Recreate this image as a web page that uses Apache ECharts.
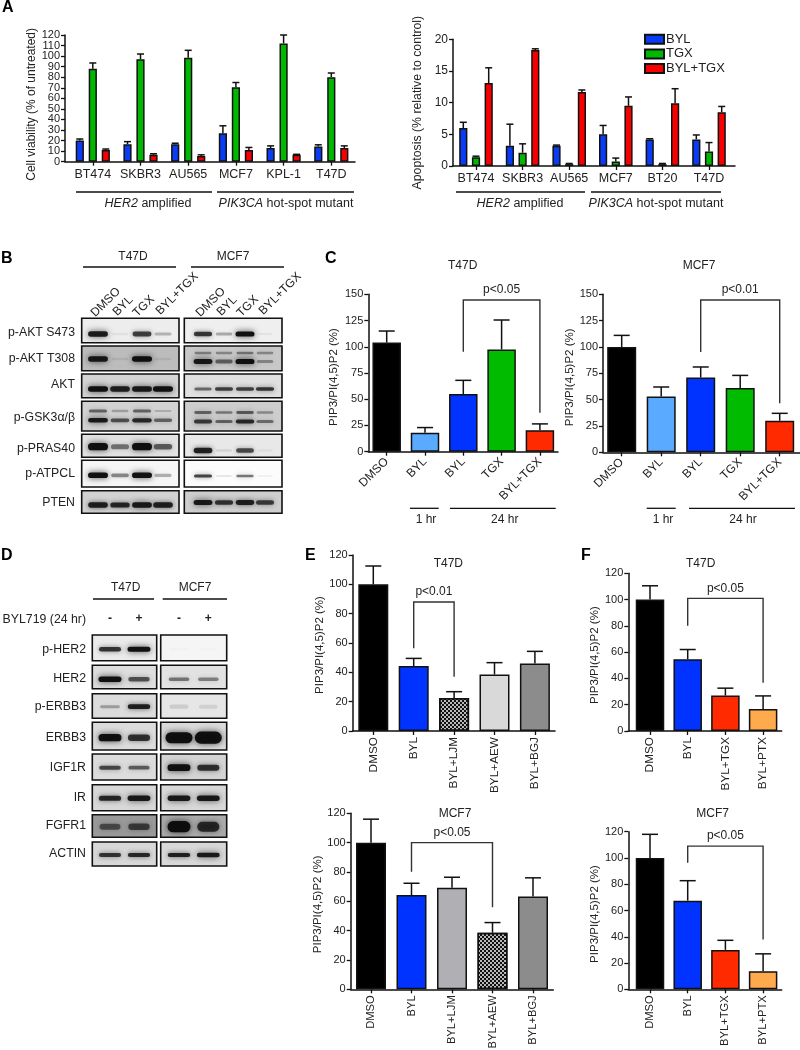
<!DOCTYPE html>
<html><head><meta charset="utf-8"><style>html,body{margin:0;padding:0;background:#fff}#c{width:800px;height:1050px}</style>
<script src="https://cdn.jsdelivr.net/npm/echarts@6/dist/echarts.min.js"></script></head>
<body><div id="c"></div><script>
// ---------- data ----------
const cellsA1=['BT474','SKBR3','AU565','MCF7','KPL-1','T47D'];
const viabBYL=[20,16.5,16.5,27,13,14.5], viabBYLTop=[21.5,19,17.5,34,15,16];
const viabTGX=[88,97,98.5,70.5,112,80], viabTGXTop=[93.5,102,105.5,75,120,84];
const viabBoth=[11,6.5,5.5,11,6.5,13], viabBothTop=[12,7.5,6.5,13.5,7,15];
const cellsA2=['BT474','SKBR3','AU565','MCF7','BT20','T47D'];
const apoBYL=[6,3.2,3.2,5,4.2,4.2], apoBYLTop=[6.9,6.6,3.3,6.4,4.3,4.9];
const apoTGX=[1.4,2.1,0.3,0.7,0.3,2.3], apoTGXTop=[1.55,3.5,0.4,1.25,0.4,3.7];
const apoBoth=[13.1,18.3,11.7,9.5,9.9,8.5], apoBothTop=[15.5,18.5,12,10.9,12.2,9.4];
const labelsC=['DMSO','BYL','BYL','TGX','BYL+TGX'];
const c1Val=[104,18,55,97.5,20.5], c1Top=[115,23,68,125.5,26.5];
const c2Val=[100,53,71,61,30], c2Top=[111,62,81,73,37];
const labelsE1=['DMSO','BYL','BYL+LJM','BYL+AEW','BYL+BGJ'];
const e1Val=[100,44.3,22.5,38.5,46], e1Top=[112.5,49.5,26.8,46.6,54.3];
const e2Val=[100,64.3,69.3,38.6,63.2], e2Top=[116,72.3,76.4,45.5,76];
const labelsF=['DMSO','BYL','BYL+TGX','BYL+PTX'];
const f1Val=[100,54.6,27,16.8], f1Top=[110.5,62,32.6,26.7];
const f2Val=[100,67.5,30,13.7], f2Top=[118,82.7,37.3,27];
// blots: lane intensities (0 = none, 1 = dark)
const targetsB=['p-AKT S473','p-AKT T308','AKT','p-GSK3α/β','p-PRAS40','p-ATPCL','PTEN'];
const lanesB=['DMSO','BYL','TGX','BYL+TGX'];
const blotBT47D=[[.95,.05,.75,.25],[.95,.08,1,.08],[1,.9,.95,1],[.95,.65,.85,.55],[1,.5,1,.6],[1,.45,1,.3],[.9,.85,.95,.9]];
const blotBT47DUpper=[null,null,null,[.55,.25,.55,.2],null,null,null];
const blotBMCF7=[[.8,.3,1,.05],[.95,.55,1,.35],[.55,.75,.75,.8],[.75,.55,.85,.5],[.9,.1,.7,.05],[.75,.12,.55,.07],[.95,.8,.9,.75]];
const blotBMCF7Upper=[null,[.4,.35,.45,.35],null,[.55,.45,.6,.35],null,null,null];
const targetsD=['p-HER2','HER2','p-ERBB3','ERBB3','IGF1R','IR','FGFR1','ACTIN'];
const blotDT47D=[[.8,1],[1,.65],[.3,.9],[1,.8],[.7,.6],[.85,.95],[.55,.65],[.8,.85]];
const blotDMCF7=[[.02,.02],[.5,.45],[.12,.1],[1.4,1.6],[1,.8],[.95,.95],[1,.8],[.9,.95]];

// ---------- styling / layout ----------
const FF='"Liberation Sans",Arial,sans-serif', INK='#222';
const BLUE='#0a3cf5',GREEN='#00b800',RED='#f80000',BLUE2='#0033ff',LIGHT='#5aaaff',GRN2='#00bb00',RED2='#ff2a00',ORG='#ffab4d';
const checker={symbol:'rect',symbolSize:1,color:'#111',dashArrayX:[[2,2],[0,2,2,0]],dashArrayY:[2,0],rotation:0};
const CHK={color:'#b8b8b8',decal:checker};
const option={animation:false,backgroundColor:'#fff',textStyle:{fontFamily:FF,color:INK},
 grid:[],xAxis:[],yAxis:[],series:[],graphic:{elements:[]},
 legend:{left:644,top:32,padding:0,orient:'vertical',icon:'rect',itemWidth:19,itemHeight:9,itemGap:0,data:['BYL','TGX','BYL+TGX'],
  textStyle:{fontFamily:FF,fontSize:13,color:INK,lineHeight:14.6,padding:[0,0,0,-3]}}};
const G=option.graphic.elements;
function text(t,x,y,o){G.push({type:'text',x,y,silent:true,rotation:(o&&o.rot)||0,style:Object.assign({text:t,fill:INK,font:'12px '+FF,align:'center',verticalAlign:'middle'},(o&&o.style)||{})});}
function hline(x1,x2,y,w){G.push({type:'line',silent:true,shape:{x1,y1:y,x2,y2:y},style:{stroke:'#111',lineWidth:w||1.3}});}
function errorSeries(gi,vals,tops,off,cap){return {type:'custom',xAxisIndex:gi,yAxisIndex:gi,clip:false,silent:true,z:1,encode:{x:0,y:[1,2]},
 data:vals.map((v,i)=>[i,v,tops[i]]),
 renderItem(p,api){const a=api.coord([api.value(0),api.value(1)]),b=api.coord([api.value(0),api.value(2)]),x=a[0]+off;
  const st={stroke:'#111',lineWidth:1.5};
  return {type:'group',children:[{type:'line',shape:{x1:x,y1:a[1],x2:x,y2:b[1]},style:st},{type:'line',shape:{x1:x-cap,y1:b[1],x2:x+cap,y2:b[1]},style:st}]};}};}
function bracketSeries(gi,b){return {type:'custom',xAxisIndex:gi,yAxisIndex:gi,clip:false,silent:true,z:3,encode:{x:[0,1],y:[2,3,4]},
 data:[[b.from,b.to,b.top,b.lb,b.rb]],
 renderItem(p,api){const L=api.coord([api.value(0),api.value(2)]),R=api.coord([api.value(1),api.value(2)]),lb=api.coord([api.value(0),api.value(3)]),rb=api.coord([api.value(1),api.value(4)]);
  return {type:'group',children:[{type:'polyline',shape:{points:[[L[0],lb[1]],[L[0],L[1]],[R[0],R[1]],[R[0],rb[1]]]},style:{stroke:'#333',lineWidth:1.4,fill:'none'}},
   {type:'text',x:(L[0]+R[0])/2+(b.dx||0),y:L[1]-10,style:{text:b.text,font:'12px '+FF,fill:INK,align:'center',verticalAlign:'middle'}}]};}};}
function addAxes(c){const gi=option.grid.length;
 option.grid.push({left:c.x0,width:c.x1-c.x0,top:c.yTop,height:c.y0-c.yTop,containLabel:false,outerBoundsMode:'none'});
 const k=c.step;
 const names=c.names, idx=names.map((_,i)=>i);
 option.xAxis.push({type:'value',gridIndex:gi,min:-(c.xc0-c.x0)/k,max:(c.x1-c.xc0)/k,splitLine:{show:false},
  axisLine:{onZero:false,lineStyle:{color:'#111',width:1.5}},axisTick:{length:4,customValues:idx,lineStyle:{color:'#111',width:1.3}},
  axisLabel:{customValues:idx,rotate:c.rot||0,margin:c.margin||6,fontSize:c.xFont||12,color:INK,fontFamily:FF,formatter:v=>names[Math.round(v)]}});
 option.yAxis.push({type:'value',gridIndex:gi,min:0,max:c.yMax,interval:c.yInt,splitLine:{show:false},
  name:c.yName,nameLocation:'middle',nameGap:c.x0-c.nameX-6,nameTextStyle:{fontSize:c.nameFont||11.5,color:INK,fontFamily:FF,padding:c.namePad||0},
  axisLine:{show:true,onZero:false,lineStyle:{color:'#111',width:1.5}},axisTick:{show:true,length:4,lineStyle:{color:'#111',width:1.3}},
  axisLabel:{fontSize:c.yFont||11,lineHeight:9,margin:5,color:INK,fontFamily:FF}});
 return gi;}
function grouped(c,groups){const gi=addAxes(c);const w=c.barW,gap=c.barStep-w;
 groups.forEach((g,j)=>{option.series.push({type:'bar',name:g.name,xAxisIndex:gi,yAxisIndex:gi,barWidth:w,barGap:(gap/w*100)+'%',z:2,
   itemStyle:{color:g.color,borderColor:'#111',borderWidth:1.5},data:g.vals.map((v,i)=>[i,v])});
  option.series.push(errorSeries(gi,g.vals,g.tops,(j-1)*c.barStep,c.cap));});}
function single(c){const gi=addAxes(c);
 option.series.push({type:'bar',name:c.id,xAxisIndex:gi,yAxisIndex:gi,barWidth:c.barW,z:2,
  data:c.vals.map((v,i)=>({value:[i,v],itemStyle:Object.assign({borderColor:'#111',borderWidth:1.5},typeof c.colors[i]==='string'?{color:c.colors[i]}:c.colors[i])}))});
 option.series.push(errorSeries(gi,c.vals,c.tops,0,c.cap));
 option.series.push(bracketSeries(gi,c.bracket));}

// ---------- panel A ----------
grouped({x0:65,x1:355,y0:161.7,yTop:35,xc0:92.8,step:47.7,n:6,names:cellsA1,yMax:120,yInt:10,yName:'Cell viability (% of untreated)',nameX:32,nameFont:12,namePad:[0,12,0,0],xFont:12.5,barW:8.2,barStep:13,cap:3.5,margin:6},
 [{name:'BYL',color:BLUE,vals:viabBYL,tops:viabBYLTop},{name:'TGX',color:GREEN,vals:viabTGX,tops:viabTGXTop},{name:'BYL+TGX',color:RED,vals:viabBoth,tops:viabBothTop}]);
grouped({x0:453,x1:735,y0:166,yTop:39.3,xc0:476,step:46.6,n:6,names:cellsA2,yMax:20,yInt:5,yName:'Apoptosis (% relative to control)',nameX:418,nameFont:12.3,namePad:[0,0,0,0],xFont:12.5,yFont:12,barW:8.2,barStep:12.7,cap:3.5,margin:6},
 [{name:'BYL',color:BLUE,vals:apoBYL,tops:apoBYLTop},{name:'TGX',color:GREEN,vals:apoTGX,tops:apoTGXTop},{name:'BYL+TGX',color:RED,vals:apoBoth,tops:apoBothTop}]);
const groupFont={rich:{i:{fontStyle:'italic',font:'italic 12.5px '+FF,fill:INK}},font:'12.5px '+FF};
hline(76,212,192);hline(217,354,192);hline(456,585,192);hline(591,721,192);
text('{i|HER2} amplified',148,204,{style:groupFont});text('{i|PIK3CA} hot-spot mutant',286,204,{style:groupFont});
text('{i|HER2} amplified',520,204,{style:groupFont});text('{i|PIK3CA} hot-spot mutant',656,204,{style:groupFont});

// ---------- panel C ----------
single({id:'C T47D',x0:368.3,x1:558,y0:451.7,yTop:294.3,xc0:386.7,step:38.3,n:5,names:labelsC,yMax:150,yInt:25,yName:'PIP3/PI(4,5)P2 (%)',nameX:334,namePad:[0,8,0,0],rot:45,margin:8,barW:28.5,cap:8,vals:c1Val,tops:c1Top,colors:['#000',LIGHT,BLUE2,GRN2,RED2],
 bracket:{from:2,to:4,top:144.6,lb:95.3,rb:37.2,text:'p<0.05'}});
single({id:'C MCF7',x0:603,x1:800,y0:452.3,yTop:294.3,xc0:621.7,step:39.5,n:5,names:labelsC,yMax:150,yInt:25,yName:'PIP3/PI(4,5)P2 (%)',nameX:570,namePad:[0,8,0,0],rot:45,margin:8,barW:29,cap:8,vals:c2Val,tops:c2Top,colors:['#000',LIGHT,BLUE2,GRN2,RED2],
 bracket:{from:2,to:4,top:144.6,lb:95.3,rb:46.6,text:'p<0.01'}});
text('T47D',462.7,266);text('MCF7',699,266);
hline(410,438.7,508.3);hline(450,555.7,508.3);hline(646.7,675.7,508.3);hline(689,795,508.3);
text('1 hr',426,520);text('24 hr',504.7,520);text('1 hr',663,520);text('24 hr',743,520);

// ---------- panel E ----------
single({id:'E T47D',x0:352.7,x1:555,y0:731,yTop:555,xc0:373.3,step:40.4,n:5,names:labelsE1,yMax:120,yInt:20,yName:'PIP3/PI(4,5)P2 (%)',nameX:325.7,namePad:[0,4,0,0],rot:90,xFont:11.8,barW:30,cap:8,vals:e1Val,tops:e1Top,colors:['#000',BLUE2,CHK,'#d9d9d9','#8c8c8c'],
 bracket:{from:1,to:2,top:88,lb:56.4,rb:37,text:'p<0.01'}});
single({id:'E MCF7',x0:350.7,x1:553.3,y0:989.3,yTop:813.3,xc0:371,step:40.5,n:5,names:labelsE1,yMax:120,yInt:20,yName:'PIP3/PI(4,5)P2 (%)',nameX:323.3,namePad:[0,6,0,0],rot:90,xFont:11.2,barW:30,cap:8,vals:e2Val,tops:e2Top,colors:['#000',BLUE2,'#b0b0b4',CHK,'#8c8c8c'],
 bracket:{from:1,to:3,top:100,lb:80.2,rb:55.9,text:'p<0.05'}});
text('T47D',448.3,564);text('MCF7',455,813.3);
// ---------- panel F ----------
single({id:'F T47D',x0:628.3,x1:781.7,y0:731,yTop:573.3,xc0:650,step:37.7,n:4,names:labelsF,yMax:120,yInt:20,yName:'PIP3/PI(4,5)P2 (%)',nameX:603.3,namePad:[0,6,0,0],rot:90,xFont:11.8,barW:28.5,cap:8,vals:f1Val,tops:f1Top,colors:['#000',BLUE2,RED2,ORG],
 bracket:{from:1,to:3,top:100.9,lb:80.1,rb:36.8,text:'p<0.05'}});
single({id:'F MCF7',x0:628.3,x1:781.7,y0:989.3,yTop:831.7,xc0:650,step:37.7,n:4,names:labelsF,yMax:120,yInt:20,yName:'PIP3/PI(4,5)P2 (%)',nameX:602.7,namePad:[0,7,0,0],rot:90,xFont:11.2,barW:28.5,cap:8,vals:f2Val,tops:f2Top,colors:['#000',BLUE2,RED2,ORG],
 bracket:{from:1,to:3,top:109,lb:96.3,rb:38,text:'p<0.05'}});
text('T47D',700.7,564);text('MCF7',712.7,813.3);

// Panel A's dense 10-step axis hides its end labels; a twin axis carries 0 and 120.
option.yAxis.push({type:'value',gridIndex:0,position:'left',min:0,max:120,interval:120,splitLine:{show:false},
 axisLine:{show:false,onZero:false},axisTick:{show:true,length:4,lineStyle:{color:'#111',width:1.3}},
 axisLabel:{fontSize:11,margin:5,color:INK,fontFamily:FF}});

// ---------- blots ----------
function blot(p){option.series.push({type:'custom',coordinateSystem:'none',silent:true,z:1,data:p.rows.map((r,i)=>[i]),
 renderItem(par,api){const i=api.value(0),r=p.rows[i],ch=[];
  ch.push({type:'rect',shape:{x:p.x0,y:r[0],width:p.x1-p.x0,height:r[1]-r[0]},style:{fill:p.bg[i]}});
  const draw=(arr,y,sc)=>arr&&p.lanes.forEach((lx,l)=>{const v=arr[l];if(v<=0)return;const d=Math.min(1,v);
   const rx=p.rx*(.8+.2*d)+(v>1?2:0), ry=Math.max(.8,p.ry*sc*(.4+.6*v));
   ch.push({type:'rect',shape:{x:lx-rx,y:y-ry,width:2*rx,height:2*ry,r:ry},
    style:{fill:'rgba(10,10,10,'+Math.min(1,d*.95)+')',shadowBlur:4+2*d,shadowColor:'rgba(0,0,0,'+(d*.75)+')'}});});
  draw(p.main[i],p.y[i],p.sc?p.sc[i]:1);
  if(p.upper&&p.upper[i])draw(p.upper[i],p.yU[i],.75);
  ch.push({type:'rect',shape:{x:p.x0,y:r[0],width:p.x1-p.x0,height:r[1]-r[0]},style:{fill:'none',stroke:'#111',lineWidth:1.6}});
  return {type:'group',children:ch};}});}
const rowsB=[[318.3,342.7],[346,370.7],[374,397.7],[401.3,431],[434.3,457.3],[460.3,487],[490.7,513.3]];
blot({x0:81.7,x1:179,rows:rowsB,lanes:[98,120,142,163],rx:10,ry:2.8,main:blotBT47D,upper:blotBT47DUpper,y:[334,359,389,420.3,446.7,475.3,505],yU:[0,0,0,411,0,0,0],
 sc:[1,1,1,.85,1.3,1,1],bg:['#ededed','#bcbcbc','#d4d4d4','#d2d2d2','#e2e2e2','#f6f6f6','#d2d2d2']});
blot({x0:184.3,x1:282,rows:rowsB,lanes:[203,224,245,265],rx:9.5,ry:2.6,main:blotBMCF7,upper:blotBMCF7Upper,y:[334,361.5,389,421.5,450.5,476,502.5],yU:[0,353,0,412.5,0,0,0],
 sc:[1,1,.8,.85,1.1,.7,1],bg:['#efefef','#c8c8c8','#e0e0e0','#cdcdcd','#e8e8e8','#fcfcfc','#cfcfcf']});
targetsB.forEach((t,i)=>text(t,75,[333,359,385,417.7,449,474,502.7][i],{style:{align:'right',font:'12.3px '+FF}}));
const r45=Math.PI/4;
[93,115,135,158].forEach((x,i)=>text(lanesB[i],x,[315,314,315,313][i],{rot:r45,style:{align:'left',font:'12px '+FF}}));
[198,219,239,261].forEach((x,i)=>text(lanesB[i],x,[315,314,315,313][i],{rot:r45,style:{align:'left',font:'12px '+FF}}));
text('T47D',133,257);text('MCF7',233,257);hline(83,176,267);hline(191,284,267);

const rowsD=[[635,660.7],[665.3,688.7],[693.7,718.3],[722.3,750],[754,780],[784.7,810.7],[814.7,837.3],[842,866]];
const yD=[649.3,679.3,706.7,737.7,767.7,798.3,826.7,855];
blot({x0:92.3,x1:156.7,rows:rowsD,lanes:[110,139],rx:11.5,ry:2.8,main:blotDT47D,y:yD,sc:[.9,1,.9,1.3,.9,1,1.5,.8],bg:['#ebebeb','#dedede','#dcdcdc','#dcdcdc','#dcdcdc','#d8d8d8','#999','#d8d8d8']});
blot({x0:160.7,x1:226.7,rows:rowsD,lanes:[179,208.3],rx:11.5,ry:2.8,main:blotDMCF7,y:yD,sc:[.9,.9,1.6,1.6,1.2,1,2,.8],bg:['#f5f5f5','#e2e2e2','#e6e6e6','#dadada','#d4d4d4','#d8d8d8','#aaa','#d8d8d8']});
targetsD.forEach((t,i)=>text(t,86,[650,679,706.7,737.7,768,798,825.7,853.3][i],{style:{align:'right',font:'12.3px '+FF}}));
text('BYL719 (24 hr)',86,619.3,{style:{align:'right',font:'12.3px '+FF}});
[['-',110],['+',139],['-',179],['+',208.3]].forEach(a=>text(a[0],a[1],618.5,{style:{font:'bold 12px '+FF}}));
text('T47D',125.7,588);text('MCF7',195,588);hline(93,154,599);hline(162.7,227,599);

// ---------- panel letters ----------
[['A',2,8],['B',1,259],['C',325,259],['D',1,555.7],['E',305,555.7],['F',581,555.7]].forEach(a=>
 text(a[0],a[1],a[2],{style:{align:'left',font:'bold 16px '+FF,fill:'#000'}}));
echarts.init(document.getElementById('c'),null,{renderer:'canvas'}).setOption(option);
</script></body></html>
